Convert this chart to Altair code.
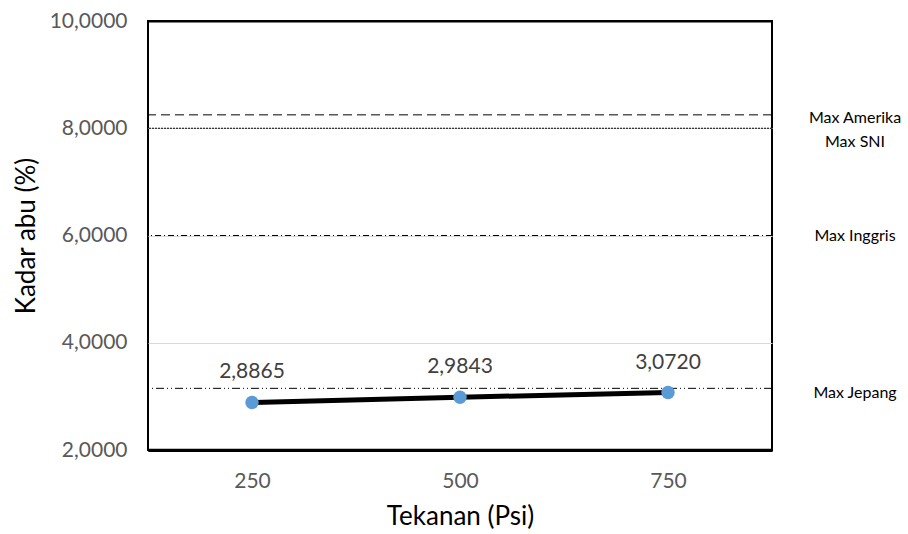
import altair as alt
import pandas as pd

pressure = ["250", "500", "750"]
ash = [2.8865, 2.9843, 3.0720]

limit_names = ["Max Amerika", "Max SNI", "Max Inggris", "Max Jepang"]
limit_values = [8.25, 8.0, 6.0, 3.15]
limit_dash = [[9, 5], [2, 1], [6, 3, 1, 3], [8, 3, 1, 3, 1, 3]]
limit_dy = [3, 14, 0, 5]

y_ticks = [2, 4, 6, 8, 10]
y_min, y_max = 2, 10

FONT = "Lato"

df = pd.DataFrame({"pressure": pressure, "ash": ash})

x_enc = alt.X(
    "pressure:N",
    sort=pressure,
    scale=alt.Scale(type="point", padding=0.5),
    axis=alt.Axis(
        title="Tekanan (Psi)", labelAngle=0, ticks=False,
        domain=True, domainColor="#000000", domainWidth=3,
        labelFontSize=21, labelColor="#595959", labelPadding=20,
        titleFontSize=26, titleColor="#000000", titleFontWeight="normal",
        titlePadding=12, labelFont=FONT, titleFont=FONT,
    ),
)
y_scale = alt.Scale(domain=[y_min, y_max], nice=False, zero=False)
edge = "datum.value == 2 || datum.value == 10"
y_axis = alt.Axis(
    title="Kadar abu (%)", values=y_ticks,
    labelExpr="replace(format(datum.value, '.4f'), '.', ',')",
    ticks=False, domain=False, grid=True,
    gridColor=alt.condition(edge, alt.value("#000000"), alt.value("#d9d9d9")),
    gridWidth=alt.condition(edge, alt.value(2), alt.value(1)),
    labelFontSize=21, labelColor="#595959", labelPadding=21,
    titleFontSize=26, titleColor="#000000", titleFontWeight="normal",
    titlePadding=10, labelFont=FONT, titleFont=FONT,
)

base = alt.Chart(df)

line = base.mark_line(color="#000000", strokeWidth=5).encode(
    x=x_enc, y=alt.Y("ash:Q", scale=y_scale, axis=y_axis)
)
points = base.mark_circle(color="#5B9BD5", size=180, opacity=1).encode(
    x="pressure:N", y="ash:Q"
)
labels = base.transform_calculate(
    lab="replace(format(datum.ash, '.4f'), '.', ',')"
).mark_text(dy=-30, fontSize=21, color="#404040", font=FONT).encode(
    x="pressure:N", y="ash:Q", text="lab:N"
)

layers = []
for name, val, dash, dy in zip(limit_names, limit_values, limit_dash, limit_dy):
    ldf = pd.DataFrame({"name": [name], "val": [val]})
    rule = alt.Chart(ldf).mark_rule(color="#000000", strokeWidth=1, strokeDash=dash).encode(
        y="val:Q"
    )
    txt = alt.Chart(ldf).mark_text(
        fontSize=16, color="#000000", align="center", baseline="middle", dy=dy, font=FONT
    ).encode(x=alt.value(707), y="val:Q", text="name:N")
    layers += [rule, txt]

frame_bottom = alt.Chart(pd.DataFrame({"v": [y_min]})).mark_rule(
    color="#000000", strokeWidth=2.5
).encode(y="v:Q")

chart = alt.layer(line, *layers, points, labels, frame_bottom).properties(
    width=624, height=429,
    autosize=alt.AutoSizeParams(type="none"),
    padding={"left": 148, "top": 21, "right": 136, "bottom": 84},
).configure(background="white").configure_view(stroke="#000000", strokeWidth=2)

chart.save("out.html", embed_options={"renderer": "svg", "actions": False})
